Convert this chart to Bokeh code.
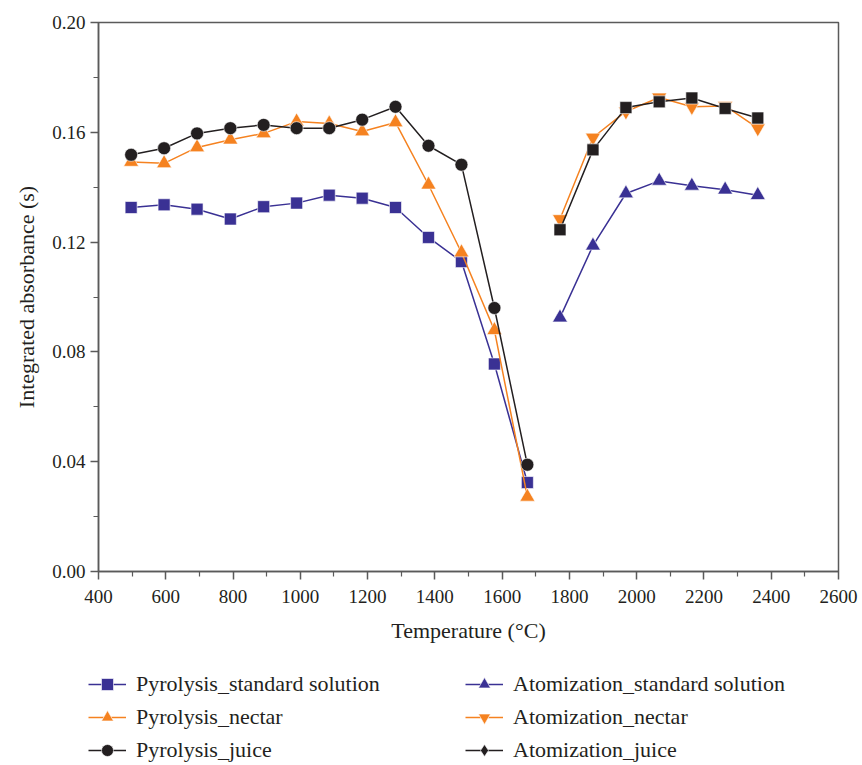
from bokeh.plotting import figure
from bokeh.layouts import column
from bokeh.models import (FixedTicker, NumeralTickFormatter, Legend, LegendItem,
                          ColumnDataSource, Range1d)
from bokeh.embed import file_html
from bokeh.resources import INLINE

# ---- data ----
pyro_temp = [497, 595, 693, 792, 891, 989, 1086, 1184, 1283, 1381, 1479, 1577, 1675]
pyro_std = [0.1326, 0.1336, 0.1320, 0.1284, 0.1329, 0.1342, 0.1371, 0.1360, 0.1326,
            0.1217, 0.1129, 0.0756, 0.0324]
pyro_nectar = [0.1492, 0.1487, 0.1545, 0.1573, 0.1596, 0.1639, 0.1632, 0.1603, 0.1636,
               0.1409, 0.1162, 0.0879, 0.0272]
pyro_juice = [0.1518, 0.1542, 0.1596, 0.1615, 0.1627, 0.1615, 0.1615, 0.1646, 0.1693,
              0.1551, 0.1482, 0.0960, 0.0389]

atom_temp = [1772, 1870, 1968, 2067, 2164, 2263, 2360]
atom_std = [0.0925, 0.1187, 0.1377, 0.1423, 0.1405, 0.1391, 0.1371]
atom_nectar = [0.1284, 0.1581, 0.1676, 0.1727, 0.1693, 0.1696, 0.1615]
atom_juice = [0.1245, 0.1536, 0.1690, 0.1711, 0.1725, 0.1687, 0.1652]

x_ticks = [400, 600, 800, 1000, 1200, 1400, 1600, 1800, 2000, 2200, 2400, 2600]
x_minor = [500, 700, 900, 1100, 1300, 1500, 1700, 1900, 2100, 2300, 2500]
y_ticks = [0.00, 0.04, 0.08, 0.12, 0.16, 0.20]
y_minor = [0.02, 0.06, 0.10, 0.14, 0.18]

labels = ["Pyrolysis_standard solution", "Pyrolysis_nectar", "Pyrolysis_juice",
          "Atomization_standard solution", "Atomization_nectar", "Atomization_juice"]

BLUE = "#3a3194"
ORANGE = "#f58220"
BLACK = "#231f20"
AXIS = "#5a5a5a"
FONT = "Liberation Serif"

p = figure(width=858, height=652, output_backend="svg", toolbar_location=None,
           x_range=Range1d(400, 2600), y_range=Range1d(0, 0.20),
           min_border_left=98, min_border_right=20, min_border_top=22,
           min_border_bottom=81)
p.xgrid.visible = False
p.ygrid.visible = False
p.outline_line_color = AXIS
p.outline_line_width = 1.5
p.background_fill_color = "white"

for ax in (p.xaxis[0], p.yaxis[0]):
    ax.axis_line_color = AXIS
    ax.axis_line_width = 1.5
    ax.major_tick_line_color = AXIS
    ax.minor_tick_line_color = AXIS
    ax.major_tick_line_width = 1.5
    ax.minor_tick_line_width = 1.2
    ax.major_tick_out = 8
    ax.major_tick_in = 0
    ax.minor_tick_out = 5
    ax.minor_tick_in = 0
    ax.major_label_text_font = FONT
    ax.major_label_text_font_size = "19px"
    ax.major_label_text_color = "#231f20"
    ax.axis_label_text_font = FONT
    ax.axis_label_text_font_size = "22px"
    ax.axis_label_text_font_style = "normal"
    ax.axis_label_text_color = "#231f20"

p.xaxis[0].ticker = FixedTicker(ticks=x_ticks, minor_ticks=x_minor)
p.yaxis[0].ticker = FixedTicker(ticks=y_ticks, minor_ticks=y_minor)
p.yaxis[0].formatter = NumeralTickFormatter(format="0.00")
p.xaxis[0].axis_label = "Temperature (°C)"
p.yaxis[0].axis_label = "Integrated absorbance (s)"
p.xaxis[0].major_label_standoff = 10
p.yaxis[0].major_label_standoff = 5
p.xaxis[0].axis_label_standoff = 12
p.yaxis[0].axis_label_standoff = 10

STYLES = [
    (BLUE, "square", 12),
    (ORANGE, "triangle", 15),
    (BLACK, "circle", 13),
    (BLUE, "triangle", 15),
    (ORANGE, "inverted_triangle", 15),
    (BLACK, "square", 12),
]
SERIES = [
    (pyro_temp, pyro_std), (pyro_temp, pyro_nectar), (pyro_temp, pyro_juice),
    (atom_temp, atom_std), (atom_temp, atom_nectar), (atom_temp, atom_juice),
]

def series(fig, xs, ys, color, marker, size):
    src = ColumnDataSource(data=dict(x=xs, y=ys))
    ln = fig.line("x", "y", source=src, line_color=color, line_width=1.5)
    mk = fig.scatter("x", "y", source=src, marker=marker, size=size,
                     fill_color=color, line_color="white", line_width=0.6)
    return [ln, mk]

# draw order: standard solution, nectar, juice (juice on top)
for i in (0, 3, 1, 4, 2, 5):
    xs, ys = SERIES[i]
    series(p, xs, ys, *STYLES[i])

# ---- legend strip below the chart ----
# same series are drawn here, but outside this strip's visible ranges,
# so only their legend glyphs show
lg = figure(width=858, height=113, output_backend="svg", toolbar_location=None,
            x_range=Range1d(0, 1), y_range=Range1d(0, 1),
            x_axis_location=None, y_axis_location=None,
            min_border_left=0, min_border_right=0, min_border_top=0,
            min_border_bottom=0)
lg.xgrid.visible = False
lg.ygrid.visible = False
lg.outline_line_color = None
try:
    lg.frame_align = False
    p.frame_align = False
except Exception:
    pass

legend_markers = ["square", "triangle", "circle", "triangle", "inverted_triangle", "diamond"]
items = []
for i, lab in enumerate(labels):
    color, _m, size = STYLES[i]
    xs, ys = SERIES[i]
    rs = series(lg, xs, ys, color, legend_markers[i], size)
    items.append(LegendItem(label=lab, renderers=rs))

legend = Legend(items=items, location=(88, 0), orientation="vertical", nrows=3,
                glyph_width=38, glyph_height=30, label_standoff=10, spacing=3,
                label_width=326, label_height=30, padding=0, margin=0,
                border_line_color=None, background_fill_alpha=0,
                label_text_font=FONT, label_text_font_size="22px",
                label_text_color="#231f20")
lg.add_layout(legend, "center")

layout = column(p, lg, spacing=0)
open("out.html", "w").write(file_html(layout, INLINE))
